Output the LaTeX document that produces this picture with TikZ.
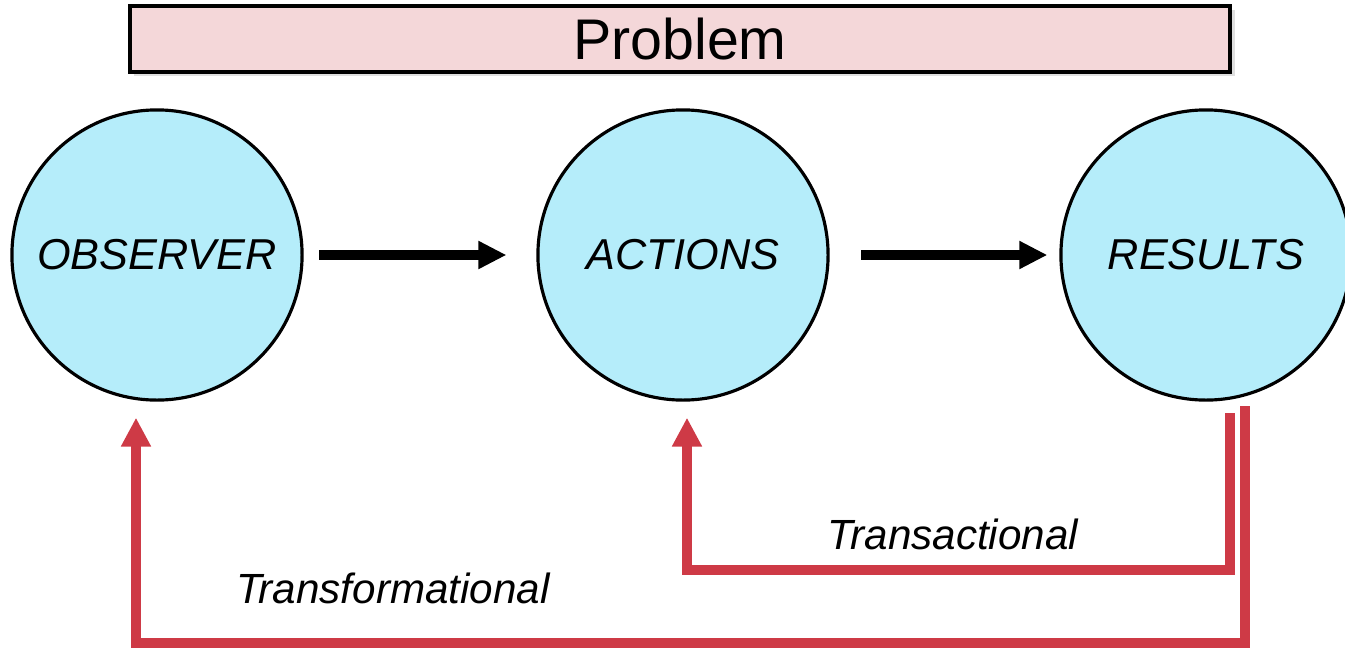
\documentclass[tikz,border=0pt]{standalone}
\usepackage{fontspec}
\setmainfont{Liberation Sans}
\usetikzlibrary{arrows.meta,shadows}
\definecolor{circfill}{HTML}{B5EDFA}
\definecolor{probfill}{HTML}{F4D7D9}
\definecolor{fbred}{HTML}{CE3A46}
\tikzset{
    stage/.style={circle,draw=black,line width=0.9pt,fill=circfill,minimum size=2.9cm,inner sep=0pt,font=\fontsize{12.3}{14}\selectfont\itshape},
    flow/.style={line width=2.6pt,-{Triangle[length=8pt,width=7.5pt]}},
    fb/.style={draw=fbred,line width=2.8pt,-{Triangle[length=8.2pt,width=8pt]}},
    fblabel/.style={font=\fontsize{12}{14}\selectfont\itshape}
}
\begin{document}
\begin{tikzpicture}[x=0.01cm,y=-0.01cm]
        \useasboundingbox (0,0) rectangle (1345,648);
        \node [draw=black,line width=1.1pt,fill=probfill,minimum width=11cm,minimum height=0.62cm,font=\fontsize{16.3}{18}\selectfont,drop shadow={opacity=0.25,shadow xshift=1.2pt,shadow yshift=-1.2pt}] (prob) at (680,39) {Problem};
        \node [stage] (obs) at (157,255) {OBSERVER};
        \node [stage] (act) at (683,255) {ACTIONS};
        \node [stage] (res) at (1206,255) {RESULTS};
        \draw [flow,shorten <=4.5pt,shorten >=8.5pt] (obs) -- (act);
        \draw [flow,shorten <=9pt,shorten >=3.4pt] (act) -- (res);
        \coordinate (tr1) at (1230,413);
        \coordinate (tr2) at (1245,406);
        \draw [fb] (tr1) -- (1230,570) -| ([shift={(4,16)}]act.south);
        \draw [fb] (tr2) -- (1245,643) -| ([shift={(-21,16)}]obs.south);
        \node [fblabel] (trans) at (953,534) {Transactional};
        \node [fblabel] (transf) at (393,588) {Transformational};
    \end{tikzpicture}
\end{document}
